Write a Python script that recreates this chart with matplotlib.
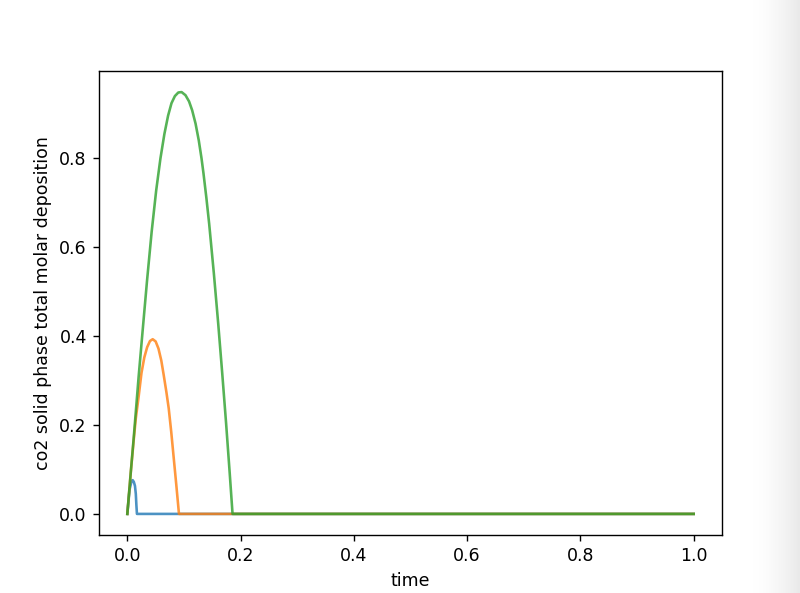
import numpy as np
import matplotlib
matplotlib.use("Agg")
import matplotlib.pyplot as plt
from matplotlib.colors import LinearSegmentedColormap

# ---- data ----
blue_t = [0.0, 0.004, 0.0075, 0.0094, 0.0115, 0.0135, 0.0150, 0.0160, 0.017, 1.0]
blue_v = [0.0, 0.055, 0.074, 0.076, 0.072, 0.063, 0.045, 0.020, 0.0, 0.0]

orange_t = [0.0, 0.0062, 0.0112, 0.015, 0.020, 0.025, 0.030, 0.035, 0.040,
            0.0448, 0.050, 0.055, 0.060, 0.0643, 0.0690, 0.0731, 0.0775,
            0.082, 0.0865, 0.0912, 1.0]
orange_v = [0.0, 0.095, 0.165, 0.215, 0.264, 0.317, 0.352, 0.375, 0.389,
            0.393, 0.388, 0.372, 0.345, 0.312, 0.274, 0.2375, 0.185,
            0.125, 0.065, 0.0, 0.0]

green_t = [0.0, 0.0062, 0.0112, 0.020, 0.0271, 0.0349, 0.0430, 0.0510,
           0.0585, 0.0655, 0.0720, 0.0780, 0.0840, 0.0900, 0.0958,
           0.1027, 0.1090, 0.1145, 0.1205, 0.1262, 0.1310, 0.1345,
           0.1395, 0.1445, 0.1528, 0.1605, 0.1676, 0.1744, 0.1808,
           0.1858, 1.0]
green_v = [0.0, 0.095, 0.170, 0.309, 0.413, 0.526, 0.635, 0.728,
           0.800, 0.855, 0.896, 0.924, 0.940, 0.948, 0.949,
           0.942, 0.928, 0.908, 0.878, 0.840, 0.800, 0.766,
           0.712, 0.653, 0.541, 0.428, 0.316, 0.204, 0.0915,
           0.0, 0.0]

fig = plt.figure(figsize=(6.4, 4.744), dpi=125)

# right-edge soft shadow
sh = fig.add_axes([0.94, 0.0, 0.06, 1.0])
grad = np.linspace(0, 1, 200) ** 1.6
sh.imshow(grad[np.newaxis, :], aspect="auto",
          cmap=LinearSegmentedColormap.from_list("s", ["#ffffff", "#e9e9e9"]),
          vmin=0, vmax=1, extent=[0, 1, 0, 1])
sh.set_axis_off()

ax = fig.add_axes([0.12375, 0.0978, 0.77875, 0.7825])
ax.plot(blue_t, blue_v, color="#1f77b4", alpha=0.8, lw=1.5)
ax.plot(orange_t, orange_v, color="#ff7f0e", alpha=0.8, lw=1.5)
ax.plot(green_t, green_v, color="#2ca02c", alpha=0.8, lw=1.5)

ax.set_xlabel("time")
ax.set_ylabel("co2 solid phase total molar deposition")
ax.set_xticks([0.0, 0.2, 0.4, 0.6, 0.8, 1.0])
ax.set_yticks([0.0, 0.2, 0.4, 0.6, 0.8])

fig.savefig("out.png", dpi=125)
